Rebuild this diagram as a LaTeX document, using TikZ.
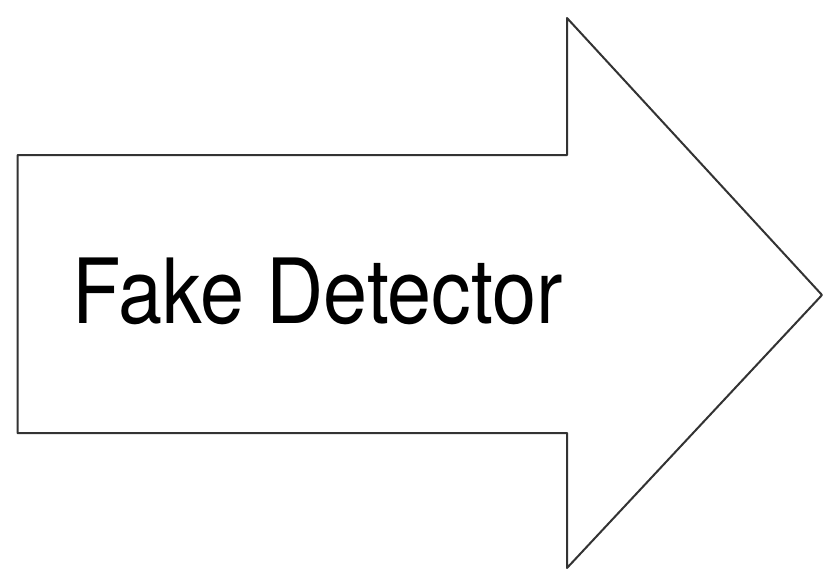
\documentclass[tikz,border=0pt]{standalone}
\usepackage{fontspec}
\setmainfont{TeX Gyre Heros}
\definecolor{edge}{HTML}{333333}
\begin{document}
\begin{tikzpicture}[x=1pt,y=-1pt,
  outline/.style={draw=edge,line width=2pt,line join=round,fill=white},
  label/.style={inner sep=0pt,anchor=base,font=\fontsize{90}{90}\selectfont,text=black}]
\useasboundingbox (0,0) rectangle (825,570);
\draw[outline] (17.5,155) -- (567,155) -- (567,18) -- (822,295) -- (567,568) -- (567,433) -- (17.5,433) -- cycle;
\node[label] (txt) at (318,323) {\scalebox{0.88}[1]{Fake Detector}};
\end{tikzpicture}
\end{document}
